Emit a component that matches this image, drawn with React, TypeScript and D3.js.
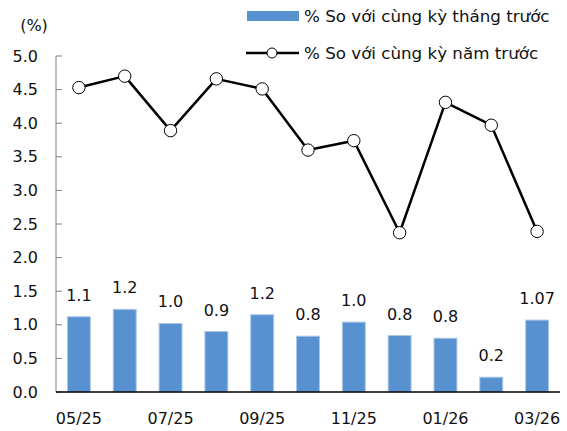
import React from "react";
import * as d3 from "d3";

const months = ["05/25", "06/25", "07/25", "08/25", "09/25", "10/25", "11/25", "12/25", "01/26", "02/26", "03/26"];
const momValues = [1.12, 1.23, 1.02, 0.9, 1.15, 0.83, 1.04, 0.84, 0.8, 0.22, 1.07];
const momLabels = ["1.1", "1.2", "1.0", "0.9", "1.2", "0.8", "1.0", "0.8", "0.8", "0.2", "1.07"];
const yoyValues = [4.53, 4.7, 3.89, 4.66, 4.51, 3.6, 3.74, 2.37, 4.31, 3.97, 2.39];
const yTicks = [0, 0.5, 1, 1.5, 2, 2.5, 3, 3.5, 4, 4.5, 5];

const W = 567;
const H = 431;
const font = "'DejaVu Sans', Verdana, sans-serif";

export default function App() {
  const x = d3.scaleBand().domain(months).range([56, 560]).paddingInner(0.5).paddingOuter(0.25);
  const y = d3.scaleLinear().domain([0, 5]).range([392, 56]);

  const line = d3
    .line<number>()
    .x((_, i) => x(months[i])! + x.bandwidth() / 2)
    .y((d) => y(d));

  const x0 = x.range()[0];
  const x1 = x.range()[1];

  return (
    <svg
      width={W}
      height={H}
      style={{ position: "absolute", left: 0, top: 0, background: "#fff" }}
      fontFamily={font}
    >
      {/* bars */}
      {momValues.map((v, i) => (
        <rect
          key={months[i]}
          x={x(months[i])}
          y={y(v)}
          width={x.bandwidth()}
          height={y(0) - y(v)}
          fill="#5791d0"
          stroke="#a9c7e8"
          strokeWidth={1}
        />
      ))}

      {/* bar labels */}
      {momLabels.map((t, i) => (
        <text
          key={"l" + i}
          x={x(months[i])! + x.bandwidth() / 2}
          y={y(momValues[i]) - 16}
          textAnchor="middle"
          fontSize={16}
          fill="#111"
        >
          {t}
        </text>
      ))}

      {/* y axis */}
      <line x1={x0} x2={x0} y1={y(5)} y2={y(0)} stroke="#808080" strokeWidth={1} />
      {yTicks.map((t) => (
        <g key={t}>
          <line x1={x0} x2={x0 + 6} y1={y(t)} y2={y(t)} stroke="#808080" strokeWidth={1} />
          <text x={38} y={y(t)} dy="0.35em" textAnchor="end" fontSize={16} fill="#111">
            {d3.format(".1f")(t)}
          </text>
        </g>
      ))}
      <text x={34} y={25} dy="0.35em" textAnchor="middle" fontSize={16} fill="#111">
        (%)
      </text>

      {/* x axis */}
      <line x1={x0} x2={x1} y1={y(0)} y2={y(0)} stroke="#000" strokeWidth={1.5} />
      {months.map((m, i) =>
        i % 2 === 0 ? (
          <text
            key={"x" + m}
            x={x(m)! + x.bandwidth() / 2}
            y={418}
            dy="0.35em"
            textAnchor="middle"
            fontSize={16}
            fill="#111"
          >
            {m}
          </text>
        ) : null
      )}

      {/* line series */}
      <path d={line(yoyValues) || ""} fill="none" stroke="#000" strokeWidth={2.5} strokeLinejoin="round" />
      {yoyValues.map((v, i) => (
        <circle
          key={"c" + i}
          cx={x(months[i])! + x.bandwidth() / 2}
          cy={y(v)}
          r={6.2}
          fill="#fff"
          stroke="#000"
          strokeWidth={1}
        />
      ))}

      {/* legend */}
      <rect x={247} y={11} width={52} height={10} fill="#5791d0" />
      <text x={304} y={16} dy="0.35em" fontSize={16.7} fill="#111">
        % So với cùng kỳ tháng trước
      </text>
      <line x1={246} x2={299} y1={53} y2={53} stroke="#000" strokeWidth={2.5} />
      <circle cx={272} cy={53} r={5} fill="#fff" stroke="#000" strokeWidth={1} />
      <text x={304} y={53} dy="0.35em" fontSize={16.7} fill="#111">
        % So với cùng kỳ năm trước
      </text>
    </svg>
  );
}
